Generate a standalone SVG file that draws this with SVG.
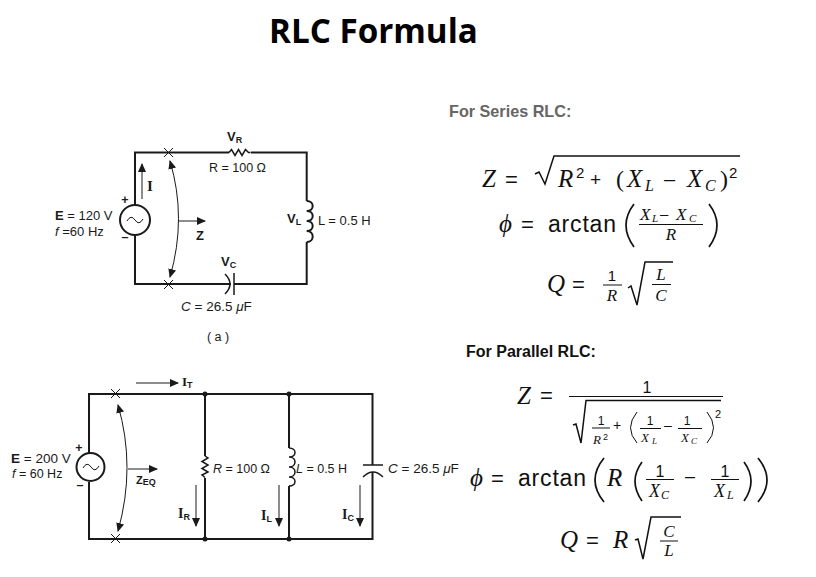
<svg xmlns="http://www.w3.org/2000/svg" width="816" height="577" viewBox="0 0 816 577">
<style>
.w{fill:none;stroke:#1a1a1a;stroke-width:2}
.w2{fill:none;stroke:#1a1a1a;stroke-width:1.5}
.t{fill:none;stroke:#1a1a1a;stroke-width:1}
.c{font-family:"Liberation Sans",Arial,sans-serif;font-size:12.5px;fill:#1a1a1a}
.i{font-family:"Liberation Serif",serif;font-weight:bold;font-size:14px;fill:#1a1a1a}
.b{font-weight:bold}
.s{font-family:"Liberation Sans",Arial,sans-serif;font-size:9px;font-weight:bold}
.m{font-family:"Liberation Serif","Times New Roman",serif;font-style:italic;fill:#111}
.n{font-family:"Liberation Sans",Arial,sans-serif;fill:#111}
.f{stroke:#111;stroke-width:1;fill:none}
.l{stroke:#111;stroke-width:1.500;fill:none}
.p{stroke:#111;stroke-width:1.700;fill:none}
</style>
<defs>
<marker id="a" markerWidth="9" markerHeight="8" refX="8" refY="4" orient="auto-start-reverse" markerUnits="userSpaceOnUse"><path d="M0 0L9 4L0 8Z" fill="#1a1a1a"/></marker>
</defs>
<text id="title" x="269" y="43" font-family="'Open Sans',sans-serif" font-weight="700" font-size="33.200" fill="#000">RLC Formula</text>

<g id="connectors-series">
<path class="w" d="M135 205V152.500H229M251 152.500H306.700V201M306.700 242V284H234M231 284H135V235"/>
<path class="t" d="M142 199V164" marker-end="url(#a)"/>
<path class="t" d="M170 161Q187 218 170 277" marker-start="url(#a)" marker-end="url(#a)"/>
<path class="t" d="M179 221H205" marker-end="url(#a)"/>
<path class="t" d="M164 148l9 9M173 148l-9 9M164 280l9 9M173 280l-9 9"/>
</g>
<g id="series-source"><circle class="w" cx="135" cy="220" r="15"/><path class="t" d="M127 221q4 -7 8 -1t8 -1"/>
<text class="c b" x="125" y="204" text-anchor="middle">+</text><text class="c b" x="125" y="241" text-anchor="middle">–</text>
<text class="c" x="55" y="220" font-size="13" style="font-size:13px"><tspan class="b">E</tspan> = 120 V</text><text class="c" x="55" y="236" style="font-size:13px" font-style="italic">f<tspan font-style="normal"> =60 Hz</tspan></text></g>
<g id="series-current"><text class="i" x="147" y="191" style="font-size:15px">I</text></g>
<g id="series-impedance"><text class="c b" x="200" y="240" text-anchor="middle" style="font-size:13px">Z</text></g>
<g id="series-r"><path class="w2" d="M229 152.500l2.500-3 3.500 6 3.500-6 3.500 6 3.500-6 3 3h2"/><text class="c b" x="227" y="141" style="font-size:13px">V<tspan class="s" dy="2">R</tspan></text><text class="c" x="209" y="172">R = 100 Ω</text></g>
<g id="series-l"><path class="w" d="M306.700 201c8 0 8 10 0 10c8 0 8 10 0 10c8 0 8 10 0 10c8 0 8 11 0 11"/><text class="c b" x="287" y="223" style="font-size:13px">V<tspan class="s" dy="2">L</tspan></text><text class="c" x="318" y="225" style="font-size:13px">L = 0.5 H</text></g>
<g id="series-c"><path class="w2" d="M225 274q10 10 0 20M234 273v22"/><text class="c b" x="221" y="266" style="font-size:13px">V<tspan class="s" dy="2">C</tspan></text><text class="c" x="181" y="311" style="font-size:13.500px"><tspan font-style="italic">C</tspan> = 26.5 <tspan font-style="italic">μ</tspan>F</text></g>
<text id="caption-a" class="c" x="218" y="341" text-anchor="middle">( a )</text>

<g id="connectors-parallel">
<path class="w" d="M89 453V394H372.500V465M372.500 472V539H89V482M205 394V456M205 478V539M289 394V448M289 486V539"/>
<path class="t" d="M136 383H178" marker-end="url(#a)"/>
<path class="t" d="M118 405Q136 467 118 531" marker-start="url(#a)" marker-end="url(#a)"/>
<path class="t" d="M128 469H157" marker-end="url(#a)"/>
<path class="t" d="M196 485V526" marker-end="url(#a)"/>
<path class="t" d="M279 485V526" marker-end="url(#a)"/>
<path class="t" d="M360 485V526" marker-end="url(#a)"/>
<path class="t" d="M111 389l9 9M120 389l-9 9M111 534l9 9M120 534l-9 9"/>
<circle cx="205" cy="394" r="2.500" fill="#1a1a1a"/><circle cx="289" cy="394" r="2.500" fill="#1a1a1a"/><circle cx="205" cy="539" r="2.500" fill="#1a1a1a"/><circle cx="289" cy="539" r="2.500" fill="#1a1a1a"/>
</g>
<g id="parallel-source"><circle class="w" cx="90.500" cy="467" r="14"/><path class="t" d="M83 468q4 -7 8 -1t8 -1"/>
<text class="c b" x="79" y="452" text-anchor="middle">+</text><text class="c b" x="80" y="489" text-anchor="middle">–</text>
<text class="c" x="11" y="463" style="font-size:13.500px"><tspan class="b">E</tspan> = 200 V</text><text class="c" x="12" y="478" font-style="italic">f<tspan font-style="normal"> = 60 Hz</tspan></text></g>
<g id="parallel-it"><text class="i" x="182" y="386" style="font-size:13px">I<tspan class="s" dy="2">T</tspan></text></g>
<g id="parallel-z"><text class="c b" x="136" y="484" style="font-size:11px">Z<tspan class="s" dy="1">EQ</tspan></text></g>
<g id="parallel-r"><path class="w2" d="M205 456l3 2-6 3.500 6 3.500-6 3.500 6 3.500-6 3 3 2.500"/><text class="c" x="213" y="473" style="font-size:12.500px"><tspan font-style="italic">R</tspan> = 100 Ω</text><text class="i" x="178" y="518">I<tspan class="s" dy="2">R</tspan></text></g>
<g id="parallel-l"><path class="w2" d="M289 448c8 0 8 9 0 9c8 0 8 10 0 10c8 0 8 10 0 10c8 0 8 9 0 9"/><text class="c" x="296" y="473"><tspan font-style="italic">L</tspan> = 0.5 H</text><text class="i" x="261" y="520">I<tspan class="s" dy="2">L</tspan></text></g>
<g id="parallel-c"><path class="w2" d="M363 465H383M363 477Q373 467 383 477"/><text class="c" x="388" y="473" style="font-size:13.500px"><tspan font-style="italic">C</tspan> = 26.5 <tspan font-style="italic">μ</tspan>F</text><text class="i" x="342" y="519">I<tspan class="s" dy="2">C</tspan></text></g>

<text id="series-heading" x="449" y="117" font-family="'Liberation Sans',sans-serif" font-weight="700" font-size="16.200" fill="#666">For Series RLC:</text>
<g id="series-z">
<text class="m" font-size="25" x="482" y="187">Z</text><text class="n" font-size="22" x="505" y="187">=</text>
<path class="l" d="M535 174l4 -2 6 12 9 -28H740"/>
<text class="m" font-size="25" x="558" y="187">R</text><text class="n" font-size="15" x="576" y="178">2</text><text class="n" font-size="19" x="590" y="186">+</text>
<text x="616" y="187" font-family="'Liberation Serif',serif" font-size="24" fill="#111">(</text><text class="m" font-size="25" x="627" y="187">X</text><text class="m" font-size="16" x="645" y="191">L</text><text class="n" font-size="20" x="664" y="186">–</text><text class="m" font-size="25" x="687" y="187">X</text><text class="m" font-size="16" x="705" y="191">C</text><text x="720" y="187" font-family="'Liberation Serif',serif" font-size="24" fill="#111">)</text><text class="n" font-size="15" x="729" y="178">2</text>
</g>
<g id="series-phi">
<text class="m" font-size="25" x="499" y="232">ϕ</text><text class="n" font-size="22" x="521" y="232">=</text>
<text class="n" font-size="23" x="548" y="232" textLength="68">arctan</text>
<path class="p" d="M634 204Q618 225 634 247M709 204Q725 225 709 247"/>
<text class="m" font-size="17" x="640" y="220">X</text><text class="m" font-size="11" x="652" y="222">L</text><text class="n" font-size="15" x="660" y="219">–</text><text class="m" font-size="17" x="676" y="220">X</text><text class="m" font-size="11" x="689" y="222">C</text>
<path class="f" d="M639 224.500H703"/><text class="m" font-size="17" x="671" y="240" text-anchor="middle">R</text>
</g>
<g id="series-q">
<text class="m" font-size="25" x="547" y="292">Q</text><text class="n" font-size="22" x="572" y="292">=</text>
<text class="n" font-size="15" x="612" y="281" text-anchor="middle">1</text><path class="f" d="M603 285H622"/><text class="m" font-size="17" x="612" y="301" text-anchor="middle">R</text>
<path class="l" d="M628 288l3 -2 6 19 8 -43H673"/>
<text class="m" font-size="17" x="661" y="280" text-anchor="middle">L</text><path class="f" d="M652 284.500H671"/><text class="m" font-size="17" x="661" y="301" text-anchor="middle">C</text>
</g>

<text id="parallel-heading" x="466" y="357" font-family="'Liberation Sans',sans-serif" font-weight="700" font-size="16" fill="#111">For Parallel RLC:</text>
<g id="parallel-eq-z">
<text class="m" font-size="25" x="517" y="404">Z</text><text class="n" font-size="22" x="540" y="403">=</text>
<text class="n" font-size="16" x="647" y="393" text-anchor="middle">1</text><path class="f" d="M569 396.500H723"/>
<path class="l" d="M573 425l3 -1 5 19 5 -42.500H721"/>
<text class="n" font-size="12" x="601" y="425" text-anchor="middle">1</text><path class="f" d="M592 428H610"/><text class="m" font-size="13" x="593" y="444">R</text><text class="n" font-size="9" x="603" y="440">2</text>
<text class="n" font-size="14" x="613" y="430">+</text>
<path class="f" stroke-width="1.300" d="M637 412Q624 428 637 443M707 412Q720 428 707 443"/>
<text class="n" font-size="12" x="650" y="425" text-anchor="middle">1</text><path class="f" d="M640 428.500H661"/><text class="m" font-size="13" x="641" y="442">X</text><text class="m" font-size="9" x="652" y="444">L</text>
<text class="n" font-size="14" x="664" y="430">–</text>
<text class="n" font-size="12" x="687" y="425" text-anchor="middle">1</text><path class="f" d="M678 428.500H702"/><text class="m" font-size="13" x="681" y="442">X</text><text class="m" font-size="9" x="691" y="444">C</text>
<text class="n" font-size="11" x="715" y="418">2</text>
</g>
<g id="parallel-eq-phi">
<text class="m" font-size="25" x="470" y="486">ϕ</text><text class="n" font-size="22" x="491" y="486">=</text>
<text class="n" font-size="23" x="518" y="486" textLength="68">arctan</text>
<path class="p" d="M604 458Q586 480 604 502M642 462Q628 481 642 501M744 462Q758 481 744 501M758 458Q776 480 758 502"/>
<text class="m" font-size="25" x="607" y="486">R</text>
<text class="n" font-size="16" x="660" y="477" text-anchor="middle">1</text><path class="f" d="M646 479.500H674"/><text class="m" font-size="18" x="649" y="497">X</text><text class="m" font-size="12" x="661" y="499">C</text>
<text class="n" font-size="18" x="685" y="482">–</text>
<text class="n" font-size="16" x="725" y="477" text-anchor="middle">1</text><path class="f" d="M711 479.500H739"/><text class="m" font-size="18" x="714" y="497">X</text><text class="m" font-size="12" x="727" y="499">L</text>
</g>
<g id="parallel-eq-q">
<text class="m" font-size="25" x="560" y="548">Q</text><text class="n" font-size="22" x="586" y="548">=</text>
<text class="m" font-size="25" x="613" y="548">R</text>
<path class="l" d="M635 540l3 -1 5 20 8 -42H681"/>
<text class="m" font-size="17" x="669" y="537" text-anchor="middle">C</text><path class="f" d="M660 541H678"/><text class="m" font-size="17" x="669" y="556" text-anchor="middle">L</text>
</g>
</svg>
